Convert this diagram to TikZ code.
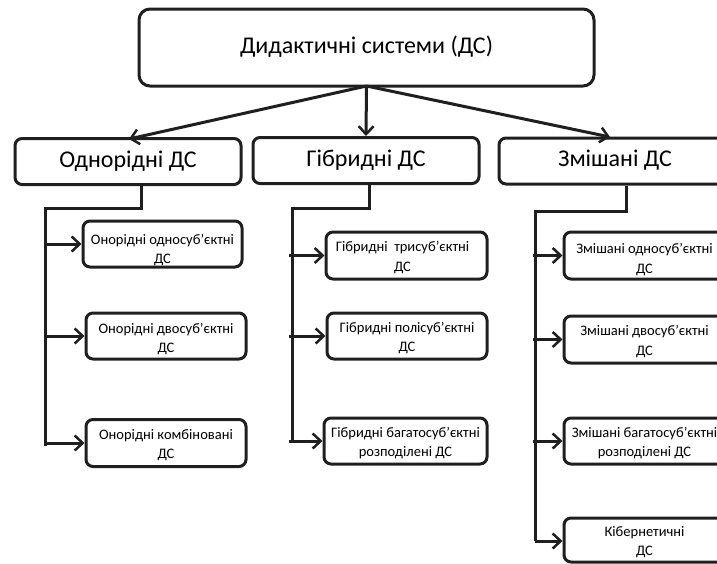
\documentclass[tikz,border=0pt]{standalone}
\usepackage{fontspec}
\setmainfont{Carlito}
\usetikzlibrary{arrows.meta,calc}
\begin{document}
\begin{tikzpicture}[x=1pt,y=-1pt,
  box/.style={draw=black!88,line width=3pt,rounded corners=7pt,inner sep=0pt,align=center},
  topbox/.style={box,rounded corners=11pt,minimum width=455pt,minimum height=77pt,font=\fontsize{24}{28}\selectfont,execute at begin node=\strut},
  midbox/.style={box,minimum width=226pt,minimum height=46pt,font=\fontsize{24}{28}\selectfont,execute at begin node=\strut},
  subbox/.style={box,minimum width=160pt,minimum height=46pt},
  subtxt/.style={inner sep=0pt,align=center,font=\fontsize{14.5}{19.5}\selectfont},
  conn/.style={draw=black!88,line width=3pt},
  arr/.style={conn,-{Straight Barb[length=8pt,width=15pt,line width=2.5pt]}}
]
\useasboundingbox (0,0) rectangle (717,563);
\begin{scope}
\clip (0,0) rectangle (717,563);
\node[topbox] (top) at (366.5,47.5) {Дидактичні системи (ДС)};
\node[midbox] (odn) at (128,161.5) {Однорідні ДС};
\node[midbox] (gib) at (366,160.5) {Гібридні ДС};
\node[midbox,minimum width=232pt] (zm) at (615,161) {Змішані ДС};

\node[subbox,minimum width=159pt,label={[subtxt,yshift=-6pt]center:Онорідні односуб’єктні\\ДС}] (o1) at (162.5,244) {};
\node[subbox,label={[subtxt,yshift=-3pt]center:Онорідні двосуб’єктні\\ДС}] (o2) at (166,336) {};
\node[subbox,minimum height=47pt,label={[subtxt,yshift=-2pt]center:Онорідні комбіновані\\ДС}] (o3) at (166,443) {};

\node[subbox,minimum width=161pt,minimum height=47pt,label={[subtxt,yshift=-2pt,xshift=-4pt]center:Гібридні~ трисуб’єктні\\ДС}] (g1) at (406.5,255.5) {};
\node[subbox,label={[subtxt,yshift=-2pt]center:Гібридні полісуб’єктні\\ДС}] (g2) at (407,336) {};
\node[subbox,minimum width=163pt,label={[subtxt,yshift=-2pt]center:Гібридні багатосуб’єктні\\розподілені ДС}] (g3) at (405.5,441) {};

\node[subbox,minimum width=161pt,minimum height=47pt,label={[subtxt,yshift=-4pt]center:Змішані односуб’єктні\\ДС}] (z1) at (644.5,255.5) {};
\node[subbox,minimum width=161pt,minimum height=47pt,label={[subtxt,yshift=-2pt]center:Змішані двосуб’єктні\\ДС}] (z2) at (644.5,339.5) {};
\node[subbox,minimum width=161pt,label={[subtxt,yshift=-2pt]center:Змішані багатосуб’єктні\\розподілені ДС}] (z3) at (644.5,441) {};
\node[subbox,minimum width=161pt,minimum height=44pt,label={[subtxt,yshift=-2pt]center:Кібернетичні\\ДС}] (z4) at (644.5,540) {};

% top connectors
\coordinate (src) at (366.5,86);
\draw[arr] (src) -- (129,139);
\draw[arr] (src) -- (gib.north);
\draw[arr] (src) -- (610,137);

% Однорідні branch
\coordinate (od) at ($(odn.south)+(13,0)$);
\coordinate (ot) at (45,208);
\coordinate (ob) at (45,446);
\draw[conn] (od) |- (ot) -- (ob);
\draw[arr] (47,244) -- (o1.west);
\draw[arr] (47,336) -- (o2.west);
\draw[arr] (ot |- o3) -- (o3.west);

% Гібридні branch
\coordinate (gd) at ($(gib.south)+(3,0)$);
\coordinate (gt) at (292,208);
\coordinate (gb) at (292,442);
\draw[conn] (gd) |- (gt) -- (gb);
\draw[arr] (289,255.5) -- (g1.west);
\draw[arr] (289,336) -- (g2.west);
\draw[arr] (289,441) -- (g3.west);

% Змішані branch
\coordinate (zd) at ($(zm.south)+(11,0)$);
\coordinate (zt) at (535,211);
\coordinate (zb) at (535,541);
\draw[conn] (zd) |- (zt) -- (zb);
\draw[arr] (533,255.5) -- (z1.west);
\draw[arr] (533,339.5) -- (z2.west);
\draw[arr] (533,441) -- (z3.west);
\draw[arr] (zb) -- (z4.west |- zb);
\end{scope}
\end{tikzpicture}
\end{document}
